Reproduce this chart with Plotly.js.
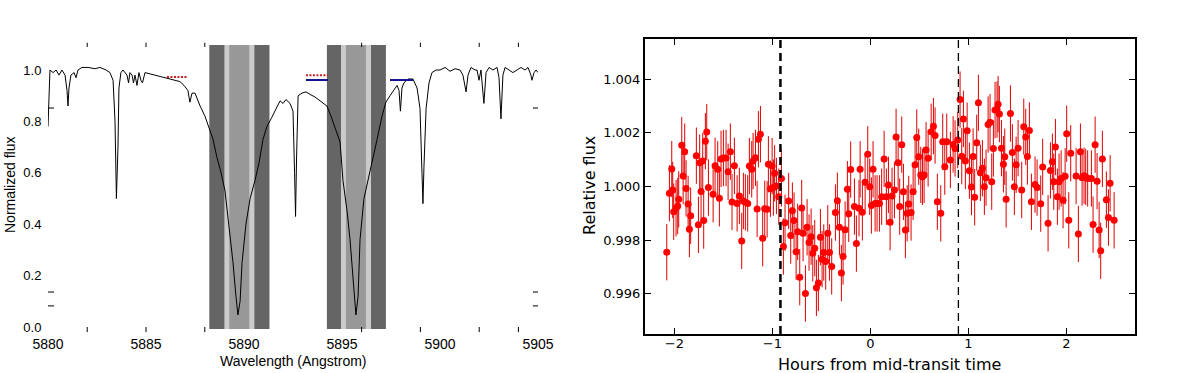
<!DOCTYPE html>
<html><head><meta charset="utf-8">
<script src="https://cdn.plot.ly/plotly-3.0.1.min.js"></script>
<style>html,body{margin:0;padding:0;background:#fff}#chart{width:1200px;height:373px}</style>
</head><body><div id="chart"></div>
<script>
// ---------- Left panel: Na D spectrum ----------
const wavelength = [
5880.00,5880.05,5880.10,5880.26,5880.41,5880.56,5880.71,5880.87,5880.97,5881.02,
5881.07,5881.17,5881.33,5881.43,5881.53,5881.73,5882.04,5882.40,5882.65,5882.96,
5883.16,5883.32,5883.42,5883.49,5883.57,5883.62,5883.72,5883.83,5884.03,5884.11,
5884.18,5884.29,5884.36,5884.44,5884.54,5884.64,5884.74,5884.82,5884.95,5885.20,
5885.46,5885.71,5885.97,5886.22,5886.48,5886.73,5886.94,5887.14,5887.24,5887.35,
5887.50,5887.76,5888.01,5888.21,5888.42,5888.62,5888.83,5889.03,5889.23,5889.44,
5889.59,5889.69,5889.80,5889.90,5890.10,5890.31,5890.56,5890.77,5890.97,5891.17,
5891.38,5891.58,5891.84,5891.99,5892.14,5892.35,5892.50,5892.58,5892.63,5892.68,
5892.76,5892.96,5893.16,5893.37,5893.62,5893.88,5894.08,5894.23,5894.44,5894.64,
5894.90,5895.05,5895.26,5895.41,5895.56,5895.71,5895.82,5895.92,5896.12,5896.33,
5896.53,5896.79,5897.04,5897.24,5897.45,5897.65,5897.81,5897.91,5897.98,5898.06,
5898.16,5898.37,5898.62,5898.83,5898.98,5899.08,5899.13,5899.18,5899.29,5899.44,
5899.59,5899.80,5900.00,5900.26,5900.51,5900.77,5901.02,5901.17,5901.33,5901.43,
5901.58,5901.79,5901.89,5901.99,5902.09,5902.24,5902.35,5902.50,5902.70,5902.91,
5903.01,5903.11,5903.21,5903.32,5903.52,5903.72,5903.93,5904.13,5904.34,5904.49,
5904.64,5904.69,5904.80,5904.90,5905.00
];
const normFlux = [
0.78,0.90,1.00,0.99,1.00,0.98,1.00,0.98,0.92,0.86,
0.93,0.98,0.99,0.97,1.00,1.01,1.01,1.005,1.01,1.00,
0.99,0.96,0.80,0.50,0.70,0.93,0.99,1.00,0.98,0.95,
0.99,0.98,0.95,0.98,0.94,0.99,0.96,0.95,0.99,0.985,
0.98,0.975,0.97,0.965,0.96,0.955,0.94,0.92,0.875,0.91,
0.91,0.86,0.82,0.78,0.73,0.66,0.60,0.53,0.40,0.25,
0.12,0.047,0.10,0.25,0.40,0.50,0.57,0.64,0.73,0.78,
0.81,0.84,0.88,0.87,0.885,0.87,0.84,0.60,0.43,0.65,
0.90,0.91,0.915,0.905,0.895,0.88,0.87,0.86,0.82,0.78,
0.72,0.57,0.45,0.34,0.18,0.047,0.12,0.34,0.50,0.57,
0.64,0.73,0.82,0.875,0.90,0.92,0.94,0.92,0.84,0.93,
0.95,0.965,0.965,0.93,0.85,0.60,0.48,0.62,0.85,0.95,
0.99,1.00,1.00,1.01,0.995,1.005,1.00,0.98,0.915,0.98,
1.01,1.00,1.00,0.96,1.00,0.87,0.99,1.01,1.00,1.01,
0.97,0.81,0.98,1.01,1.00,0.99,1.00,1.01,1.00,1.01,
0.98,0.96,0.99,1.00,0.99
];
const bandDark  = [[5888.23, 5891.30], [5894.23, 5897.24]];
const bandLight = [[5889.00, 5890.53], [5894.95, 5896.48]];
const bandCore  = [[5889.25, 5890.27], [5895.20, 5896.22]];
const redSegStart = [5886.07, 5893.16], redSegEnd = [5887.14, 5894.29], redSegLevel = [0.973, 0.980];
const blueSegStart = [5893.16, 5897.45], blueSegEnd = [5894.29, 5898.62], blueSegLevel = [0.961, 0.961];
const stubX = [5880.13, 5880.13, 5880.13, 5904.92, 5904.92, 5904.92];
const stubY = [0.852, 0.136, 0.082, 0.852, 0.136, 0.082];
const specTickMarks = [5882, 5885, 5888, 5896, 5899, 5902, 5904];
const specXTicks = [5880, 5885, 5890, 5895, 5900, 5905];
const specYTicks = [0.0, 0.2, 0.4, 0.6, 0.8, 1.0];

// ---------- Right panel: light curve ----------
const hours = [
-2.078,-2.051,-2.027,-2.017,-2.007,-1.983,-1.966,-1.956,-1.925,-1.911,
-1.895,-1.881,-1.860,-1.847,-1.834,-1.776,-1.755,-1.742,-1.728,-1.711,
-1.701,-1.684,-1.670,-1.653,-1.605,-1.585,-1.558,-1.541,-1.524,-1.500,
-1.473,-1.452,-1.429,-1.412,-1.388,-1.360,-1.337,-1.313,-1.296,-1.276,
-1.252,-1.235,-1.211,-1.197,-1.173,-1.156,-1.143,-1.122,-1.099,-1.078,
-1.054,-1.041,-1.020,-1.003,-0.990,-0.977,-0.959,-0.935,-0.908,-0.888,
-0.871,-0.834,-0.813,-0.796,-0.779,-0.758,-0.742,-0.721,-0.701,-0.687,
-0.663,-0.646,-0.626,-0.605,-0.588,-0.568,-0.551,-0.531,-0.510,-0.493,
-0.476,-0.456,-0.435,-0.418,-0.395,-0.357,-0.337,-0.316,-0.296,-0.279,
-0.258,-0.235,-0.221,-0.201,-0.163,-0.143,-0.116,-0.105,-0.082,-0.054,
-0.027,-0.007,0.010,0.027,0.048,0.068,0.092,0.115,0.140,0.163,
0.184,0.201,0.221,0.245,0.262,0.283,0.299,0.320,0.337,0.357,
0.375,0.391,0.415,0.436,0.456,0.473,0.493,0.514,0.531,0.548,
0.568,0.589,0.620,0.643,0.660,0.683,0.718,0.738,0.759,0.779,
0.816,0.844,0.864,0.891,0.915,0.932,0.949,0.969,0.987,1.010,
1.031,1.048,1.064,1.085,1.102,1.122,1.143,1.163,1.180,1.201,
1.221,1.238,1.255,1.272,1.292,1.303,1.316,1.337,1.357,1.371,
1.385,1.429,1.449,1.469,1.487,1.507,1.544,1.565,1.585,1.602,
1.622,1.643,1.680,1.701,1.738,1.758,1.813,1.837,1.857,1.871,
1.888,1.908,1.925,1.946,1.966,1.987,2.003,2.024,2.044,2.099,
2.122,2.143,2.160,2.180,2.197,2.217,2.255,2.272,2.293,2.313,
2.334,2.350,2.367,2.408,2.429,2.446,2.487
];
const relFlux = [
0.99755,0.99975,1.00065,0.99987,0.99906,0.99919,0.99927,0.99952,1.00154,1.00039,
1.00130,0.99993,0.99935,0.99841,0.99891,1.00115,0.99857,1.00089,0.99981,1.00095,
0.99873,1.00169,1.00203,0.99996,0.99971,1.00077,1.00064,0.99956,1.00103,1.00106,
1.00106,1.00055,1.00130,0.99942,1.00077,0.99937,0.99965,0.99797,0.99946,0.99941,
0.99937,1.00076,1.00064,1.00095,1.00107,0.99916,1.00176,1.00195,0.99807,0.99917,
0.99915,1.00083,0.99992,1.00076,0.99996,1.00049,1.00002,0.99962,1.00030,0.99776,
0.99865,0.99946,0.99817,0.99910,0.99873,0.99757,0.99831,0.99662,0.99920,0.99826,
0.99601,0.99848,0.99791,0.99813,0.99751,0.99770,0.99622,0.99640,0.99811,0.99729,
0.99754,0.99720,0.99826,0.99754,0.99702,0.99903,0.99947,0.99848,0.99677,0.99739,
0.99839,0.99990,0.99898,1.00063,0.99925,0.99787,0.99919,1.00064,0.99904,1.00016,
1.00120,0.99999,0.99929,1.00064,0.99937,0.99937,0.99937,0.99962,1.00103,0.99962,
1.00006,0.99867,0.99965,0.99987,1.00185,1.00089,0.99925,1.00156,0.99980,0.99838,
0.99900,0.99935,0.99903,0.99980,1.00081,1.00183,1.00111,1.00043,1.00036,1.00043,
1.00136,1.00105,1.00204,1.00225,1.00190,0.99943,0.99900,1.00167,1.00074,1.00167,
1.00099,1.00157,1.00142,1.00173,1.00324,1.00113,1.00252,1.00095,1.00208,1.00059,
0.99998,1.00112,0.99960,1.00163,1.00312,1.00051,1.00068,0.99999,1.00033,1.00231,
1.00240,1.00018,1.00142,1.00285,1.00287,1.00307,1.00270,1.00143,1.00083,1.00111,
0.99952,1.00272,1.00127,0.99999,1.00081,1.00143,0.99987,1.00223,1.00185,1.00112,
1.00209,0.99943,1.00007,0.99996,0.99936,1.00073,0.99863,1.00060,1.00092,1.00018,
1.00147,0.99962,1.00018,1.00030,0.99949,1.00038,1.00197,0.99874,1.00124,1.00039,
0.99823,1.00130,1.00033,1.00040,1.00036,1.00030,1.00030,0.99858,1.00156,1.00020,
0.99838,0.99760,1.00103,0.99951,0.99884,1.00012,0.99874
];
const relFluxErr = 0.00105;
const contactTimes = [-0.918, 0.898];
const lcXTicks = [-2, -1, 0, 1, 2];
const lcYTicks = [0.996, 0.998, 1.000, 1.002, 1.004];

// ---------- build ----------
const W = 1200, H = 373;
const px = v => v / W, py = v => 1 - v / H;
const leftFont = 'Liberation Sans, Arial, sans-serif';
const rightFont = 'DejaVu Sans, sans-serif';

const traces = [];
traces.push({x: wavelength, y: normFlux, xaxis: 'x', yaxis: 'y', mode: 'lines',
  line: {color: '#000', width: 1}, hoverinfo: 'skip', showlegend: false});
for (let i = 0; i < redSegStart.length; i++) {
  traces.push({x: [redSegStart[i], redSegEnd[i]], y: [redSegLevel[i], redSegLevel[i]],
    xaxis: 'x', yaxis: 'y', mode: 'lines', line: {color: '#c81e1e', width: 2, dash: '2px,1.5px'}, showlegend: false});
}
for (let i = 0; i < blueSegStart.length; i++) {
  traces.push({x: [blueSegStart[i], blueSegEnd[i]], y: [blueSegLevel[i], blueSegLevel[i]],
    xaxis: 'x', yaxis: 'y', mode: 'lines', line: {color: '#10108c', width: 2}, showlegend: false});
}
traces.push({x: stubX, y: stubY, xaxis: 'x', yaxis: 'y', mode: 'markers',
  marker: {symbol: 'line-ew', size: 5, line: {color: '#000', width: 1}}, showlegend: false});

traces.push({x: hours, y: relFlux, xaxis: 'x2', yaxis: 'y2', mode: 'markers',
  marker: {color: '#ff0000', size: 7, line: {width: 0}},
  error_y: {type: 'constant', value: relFluxErr, color: '#dd0000', thickness: 1, width: 0},
  showlegend: false});

const shapes = [];
const addBands = (list, color) => list.forEach(b => shapes.push({type: 'rect', xref: 'x', yref: 'y domain',
  x0: b[0], x1: b[1], y0: 0, y1: 1, fillcolor: color, line: {width: 0}, layer: 'below'}));
addBands(bandDark, '#656565');
addBands(bandLight, '#cbcbcb');
addBands(bandCore, '#989898');
specTickMarks.forEach(t => {
  shapes.push({type: 'line', xref: 'x', yref: 'y domain', x0: t, x1: t, y0: -0.011, y1: 0.007, line: {color: '#000', width: 1}});
  shapes.push({type: 'line', xref: 'x', yref: 'y domain', x0: t, x1: t, y0: 0.993, y1: 1.008, line: {color: '#000', width: 1}});
});
shapes.push({type: 'line', xref: 'x2', yref: 'y2 domain', x0: contactTimes[0], x1: contactTimes[0], y0: 0, y1: 1,
  line: {color: '#000', width: 2.5, dash: '8px,5px'}});
shapes.push({type: 'line', xref: 'x2', yref: 'y2 domain', x0: contactTimes[1], x1: contactTimes[1], y0: 0, y1: 1,
  line: {color: '#000', width: 1.3, dash: '8px,5px'}});

const annotations = [
  {text: 'Wavelength (Angstrom)', xref: 'paper', yref: 'paper', x: px(293), y: py(361), xanchor: 'center', yanchor: 'middle',
   showarrow: false, font: {family: leftFont, size: 14, color: '#000'}},
  {text: 'Normalized flux', xref: 'paper', yref: 'paper', x: px(10), y: py(185), xanchor: 'center', yanchor: 'middle',
   textangle: -90, showarrow: false, font: {family: leftFont, size: 14, color: '#000'}},
  {text: 'Hours from mid-transit time', xref: 'paper', yref: 'paper', x: px(889), y: py(364), xanchor: 'center', yanchor: 'middle',
   showarrow: false, font: {family: rightFont, size: 16, color: '#000'}},
  {text: 'Relative flux', xref: 'paper', yref: 'paper', x: px(589), y: py(186), xanchor: 'center', yanchor: 'middle',
   textangle: -90, showarrow: false, font: {family: rightFont, size: 16, color: '#000'}}
];

const layout = {
  width: W, height: H, margin: {l: 0, r: 0, t: 0, b: 0}, paper_bgcolor: '#fff', plot_bgcolor: 'rgba(0,0,0,0)',
  showlegend: false,
  xaxis: {domain: [px(48), px(538)], range: [5880, 5905], anchor: 'y', tickvals: specXTicks, showgrid: false, zeroline: false,
    showline: false, ticks: 'outside', ticklen: 2, tickcolor: 'rgba(0,0,0,0)',
    tickfont: {family: leftFont, size: 14, color: '#000'}, fixedrange: true},
  yaxis: {domain: [py(329), py(45)], range: [-0.0078, 1.0973], anchor: 'x', tickvals: specYTicks, tickformat: '.1f',
    showgrid: false, zeroline: false, showline: false, ticks: 'outside', ticklen: 3, tickcolor: 'rgba(0,0,0,0)',
    tickfont: {family: leftFont, size: 13, color: '#000'}, fixedrange: true},
  xaxis2: {domain: [px(645), px(1135)], range: [-2.3, 2.7], anchor: 'y2', tickvals: lcXTicks, showgrid: false, zeroline: false,
    showline: true, mirror: 'ticks', linewidth: 2, linecolor: '#000', ticks: 'inside', ticklen: 6, tickwidth: 1, tickcolor: '#000',
    ticklabelstandoff: -4,
    tickfont: {family: rightFont, size: 13, color: '#000'}, fixedrange: true},
  yaxis2: {domain: [py(334), py(39)], range: [0.9945, 1.0055], anchor: 'x2', tickvals: lcYTicks, tickformat: '.3f',
    showgrid: false, zeroline: false, showline: true, mirror: 'ticks', linewidth: 2, linecolor: '#000', ticks: 'inside',
    ticklen: 6, tickwidth: 1, tickcolor: '#000', tickfont: {family: rightFont, size: 13, color: '#000'}, fixedrange: true},
  shapes: shapes,
  annotations: annotations
};

Plotly.newPlot('chart', traces, layout, {displayModeBar: false, staticPlot: true});
</script>
</body></html>
